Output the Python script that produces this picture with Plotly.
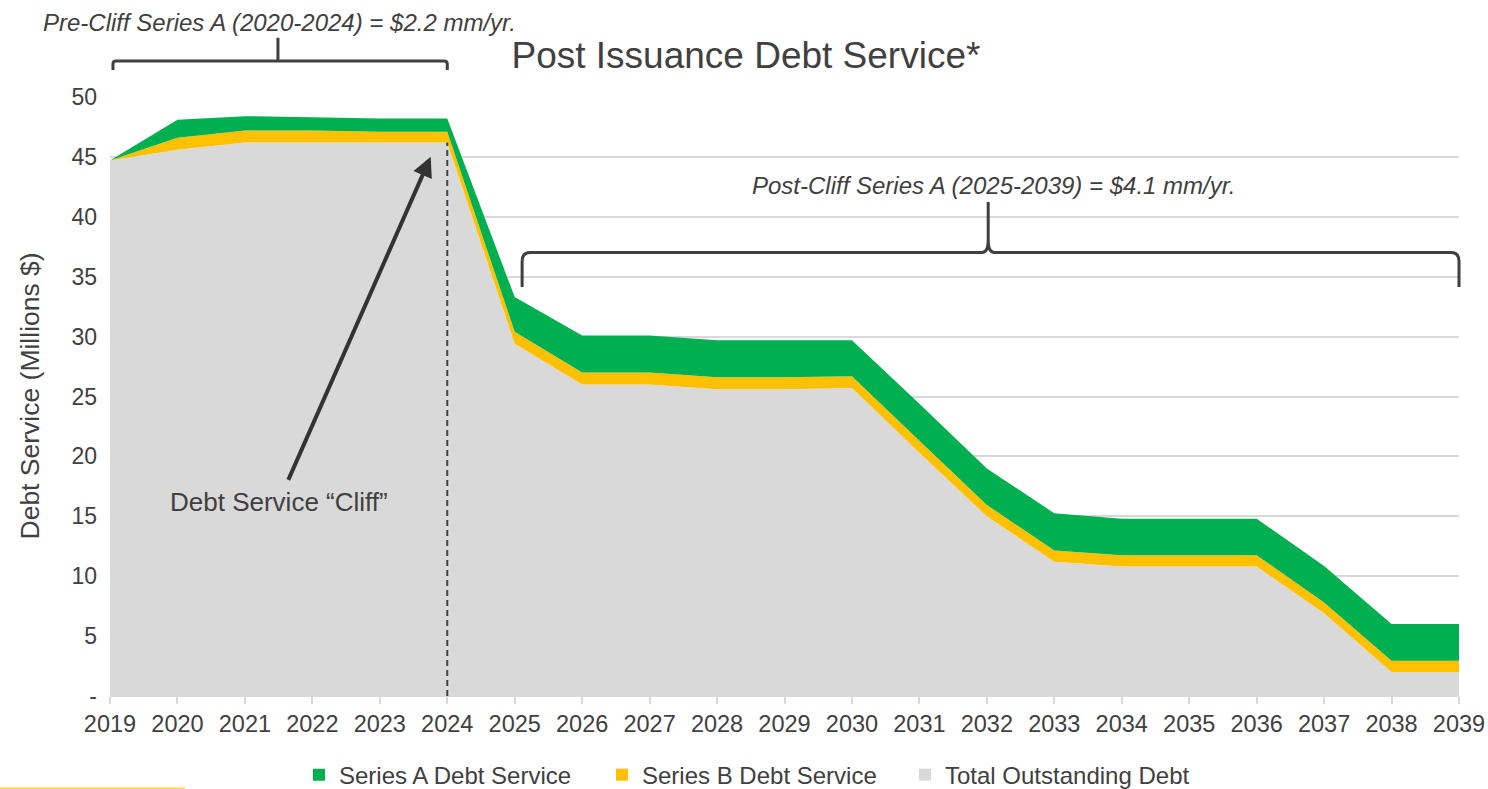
import plotly.graph_objects as go

# ---------------- data ----------------
years = list(range(2019, 2040))
total_outstanding = [44.7, 45.6, 46.2, 46.2, 46.2, 46.2, 29.4, 26.0, 26.0, 25.6, 25.6,
                     25.7, 20.3, 15.0, 11.2, 10.8, 10.8, 10.8, 6.9, 2.0, 2.0]
series_b = [0.0, 1.0, 1.0, 1.0, 0.9, 0.9, 1.0, 1.0, 1.0, 1.0, 1.0,
            1.0, 1.0, 0.95, 0.95, 0.95, 0.95, 0.95, 0.9, 0.95, 0.95]
series_a = [0.0, 1.5, 1.2, 1.1, 1.1, 1.1, 2.9, 3.1, 3.1, 3.1, 3.1,
            3.0, 3.1, 3.05, 3.1, 3.05, 3.05, 3.05, 3.05, 3.05, 3.05]
y_ticks = [0, 5, 10, 15, 20, 25, 30, 35, 40, 45, 50]
y_ticktext = ["-", "5", "10", "15", "20", "25", "30", "35", "40", "45", "50"]
names = ["Series A Debt Service", "Series B Debt Service", "Total Outstanding Debt"]

GREEN, YELLOW, GREY = "#00b050", "#ffc000", "#d9d9d9"
TXT = "#404040"
FONT = "Liberation Sans, Arial, sans-serif"

X0, X1, Y0, Y1 = 2019, 2039, 0, 50


def px(yr):
    return (yr - X0) / (X1 - X0)


def py(v):
    return (v - Y0) / (Y1 - Y0)


def path(cmds):
    out = []
    for c in cmds:
        op, pts = c[0], c[1:]
        out.append(op + " " + " ".join(f"{px(a):.5f},{py(b):.5f}" for a, b in pts))
    return " ".join(out)


fig = go.Figure()
# stacked areas
fig.add_trace(go.Scatter(x=years, y=total_outstanding, stackgroup="s", mode="none",
                         fillcolor=GREY, name=names[2], showlegend=False))
fig.add_trace(go.Scatter(x=years, y=series_b, stackgroup="s", mode="none",
                         fillcolor=YELLOW, name=names[1], showlegend=False))
fig.add_trace(go.Scatter(x=years, y=series_a, stackgroup="s", mode="none",
                         fillcolor=GREEN, name=names[0], showlegend=False))
# legend entries with square markers
for nm, col in zip(names, [GREEN, YELLOW, GREY]):
    fig.add_trace(go.Scatter(x=[None], y=[None], mode="markers", name=nm,
                             marker=dict(symbol="square", size=12, color=col)))

shapes = []
# dashed cliff line
shapes.append(dict(type="line", xref="x", yref="y", x0=years[5], x1=years[5], y0=0,
                   y1=total_outstanding[5], line=dict(color=TXT, width=2, dash="6px,4px")))
# pre-cliff bracket
pre = path([
    ("M", (2019.044, 52.25)), ("L", (2019.044, 52.75)),
    ("Q", (2019.044, 53.0), (2019.09, 53.0)), ("L", (2023.95, 53.0)),
    ("Q", (2024.0, 53.0), (2024.0, 52.75)), ("L", (2024.0, 52.25)),
    ("M", (2021.49, 53.0)), ("L", (2021.49, 54.95)),
])
shapes.append(dict(type="path", xref="paper", yref="paper", path=pre,
                   line=dict(color=TXT, width=3)))
# post-cliff brace
post = path([
    ("M", (2025.11, 34.14)), ("L", (2025.11, 36.3)),
    ("Q", (2025.11, 37.02), (2025.23, 37.02)), ("L", (2031.93, 37.02)),
    ("Q", (2032.02, 37.02), (2032.02, 38.06)), ("L", (2032.02, 41.24)),
    ("M", (2032.02, 38.06)), ("Q", (2032.02, 37.02), (2032.11, 37.02)),
    ("L", (2038.88, 37.02)), ("Q", (2039.0, 37.02), (2039.0, 36.3)),
    ("L", (2039.0, 34.14)),
])
shapes.append(dict(type="path", xref="paper", yref="paper", path=post,
                   line=dict(color=TXT, width=3)))
# small yellow line bottom-left
shapes.append(dict(type="line", xref="paper", yref="paper", x0=-0.0815, x1=0.0556,
                   y0=-0.1545, y1=-0.1545, line=dict(color="#ffd54f", width=2)))

annotations = [
    dict(text="Pre-Cliff Series A (2020-2024) = $2.2 mm/yr.", xref="x", yref="paper",
         x=2021.51, y=py(56.26), showarrow=False, xanchor="center", yanchor="middle",
         font=dict(family=FONT, size=24, color=TXT, style="italic")),
    dict(text="Post-Cliff Series A (2025-2039) = $4.1 mm/yr.", xref="x", yref="y",
         x=2032.1, y=42.65, showarrow=False, xanchor="center", yanchor="middle",
         font=dict(family=FONT, size=24, color=TXT, style="italic")),
    dict(text="Debt Service \u201cCliff\u201d", xref="x", yref="y", x=2023.755, y=45.02,
         ax=2021.5, ay=16.2, axref="x", ayref="y", showarrow=True, arrowhead=2,
         arrowsize=1.0, arrowwidth=4, arrowcolor="#333333", startstandoff=6,
         font=dict(family=FONT, size=26, color=TXT)),
    dict(text="Debt Service (Millions $)", xref="paper", yref="paper", x=0, y=0.5,
         xshift=-81, textangle=-90, showarrow=False, xanchor="center", yanchor="middle",
         font=dict(family=FONT, size=26.5, color=TXT)),
]

fig.update_layout(
    width=1488, height=789,
    margin=dict(l=110, r=29, t=97, b=93, autoexpand=False),
    paper_bgcolor="white", plot_bgcolor="white",
    font=dict(family=FONT, color=TXT),
    title=dict(text="Post Issuance Debt Service*", x=0.5013, xref="container",
               y=1 - 55 / 789, yref="container", xanchor="center", yanchor="middle",
               font=dict(family=FONT, size=37, color=TXT)),
    showlegend=True,
    legend=dict(orientation="h", x=0.1401, xanchor="left", y=-0.132, yanchor="middle",
                traceorder="normal", entrywidth=258, entrywidthmode="pixels",
                font=dict(family=FONT, size=24, color=TXT), itemwidth=30,
                bgcolor="rgba(0,0,0,0)"),
    shapes=shapes,
    annotations=annotations,
    xaxis=dict(range=[X0, X1], tickmode="array", tickvals=years,
               ticktext=[str(y) for y in years], ticks="outside", ticklen=7,
               tickcolor=GREY, tickwidth=1.5, showgrid=False, showline=True,
               linecolor=GREY, linewidth=1, zeroline=False, automargin=False,
               tickfont=dict(family=FONT, size=23.5, color=TXT)),
    yaxis=dict(range=[Y0, Y1], tickmode="array", tickvals=y_ticks, ticktext=y_ticktext,
               showgrid=True, gridcolor=GREY, gridwidth=1.5, zeroline=False,
               showline=False, ticks="", ticklabelstandoff=12, automargin=False,
               tickfont=dict(family=FONT, size=23, color=TXT)),
)

fig.write_html("out.html")
